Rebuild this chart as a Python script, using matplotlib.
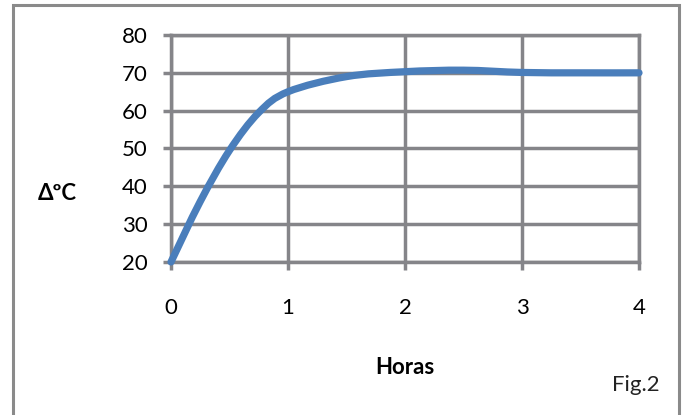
import matplotlib
matplotlib.use("Agg")
import matplotlib.pyplot as plt
from matplotlib.path import Path
from matplotlib.patches import PathPatch, Rectangle

plt.rcParams['font.family'] = ['Lato', 'DejaVu Sans']

# values
hours = [0, 0.25, 0.5, 0.75, 1, 1.5, 2, 2.5, 3, 3.5, 4]
delta_t = [20, 36, 49.5, 59.5, 65, 69, 70.3, 70.7, 70.1, 70, 70]
x_ticks = [0, 1, 2, 3, 4]
y_ticks = [20, 30, 40, 50, 60, 70, 80]

grid_col = '#858589'
line_col = '#4a7ebb'
fs = 16


def smooth_path(xs, ys, t=1/6):
    # catmull-rom style bezier, like a smoothed line in a spreadsheet
    verts = [(xs[0], ys[0])]
    codes = [Path.MOVETO]
    n = len(xs)
    for i in range(n - 1):
        p0 = (xs[max(i - 1, 0)], ys[max(i - 1, 0)])
        p1 = (xs[i], ys[i])
        p2 = (xs[i + 1], ys[i + 1])
        p3 = (xs[min(i + 2, n - 1)], ys[min(i + 2, n - 1)])
        c1 = (p1[0] + (p2[0] - p0[0]) * t, p1[1] + (p2[1] - p0[1]) * t)
        c2 = (p2[0] - (p3[0] - p1[0]) * t, p2[1] - (p3[1] - p1[1]) * t)
        verts += [c1, c2, p2]
        codes += [Path.CURVE4] * 3
    return Path(verts, codes)


fig = plt.figure(figsize=(6.85, 4.15), dpi=100)
ax = fig.add_axes([171 / 685, 1 - 262 / 415, (639 - 171) / 685, (262 - 35) / 415])

ax.set_xlim(0, 4)
ax.set_ylim(20, 80)
ax.set_xticks(x_ticks)
ax.set_yticks(y_ticks)
ax.set_xticklabels([str(v) for v in x_ticks], fontsize=fs)
ax.set_yticklabels([str(v) for v in y_ticks], fontsize=fs)
ax.grid(True, color=grid_col, linewidth=2.5)
ax.set_axisbelow(True)
for s in ax.spines.values():
    s.set_color(grid_col)
    s.set_linewidth(2.5)
ax.tick_params(axis='both', length=6, width=2.5, color=grid_col)
ax.tick_params(axis='y', pad=11)
ax.tick_params(axis='x', pad=20)

ax.add_patch(PathPatch(smooth_path(hours, delta_t), fill=False, edgecolor=line_col,
                       linewidth=5.2, capstyle='round', joinstyle='round',
                       clip_on=False, zorder=3))

fig.text(57 / 685, 1 - 193 / 415, 'ΔºC', fontsize=fs, fontweight='bold',
         ha='center', va='center')
fig.text(405 / 685, 1 - 367 / 415, 'Horas', fontsize=fs, fontweight='bold',
         ha='center', va='center')
fig.text(636 / 685, 1 - 385 / 415, 'Fig.2', fontsize=fs, ha='center', va='center',
         color='#222222')

# outer frame of the chart
fig.patches.append(Rectangle((13 / 685, -0.05), (679 - 13) / 685, 1.05 - 5 / 415,
                             transform=fig.transFigure, fill=False,
                             edgecolor='#8a8a8a', linewidth=2.2))

fig.savefig('out.png', dpi=100)
